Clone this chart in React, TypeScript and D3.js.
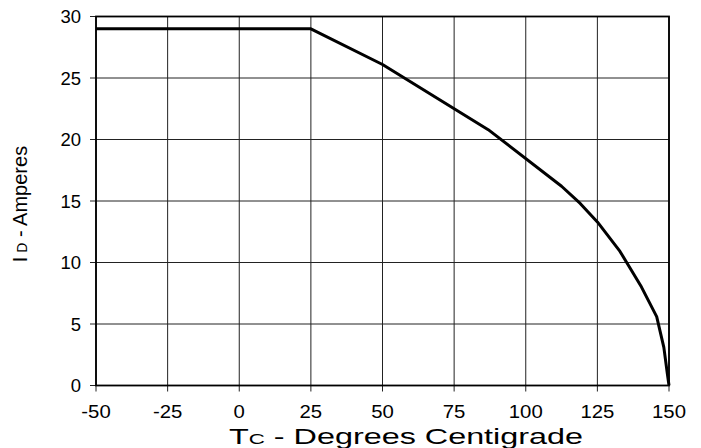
import React from "react";
import * as d3 from "d3";

const xTicks = [-50, -25, 0, 25, 50, 75, 100, 125, 150];
const yTicks = [0, 5, 10, 15, 20, 25, 30];
const tempC = [-50, 25, 50, 86.9, 112.5, 119, 125, 132.9, 140.4, 145.7, 148.2, 149.4, 150];
const currentA = [29, 29, 26.1, 20.8, 16.2, 14.8, 13.3, 10.9, 8.0, 5.6, 3.1, 1.0, 0];

export default function App() {
  const W = 701, H = 448;
  const L = 96, R = 669, T = 16.5, B = 385.5;
  const x = d3.scaleLinear().domain([-50, 150]).range([L, R]);
  const y = d3.scaleLinear().domain([0, 30]).range([B, T]);
  const pts: [number, number][] = tempC.map((t, i) => [t, currentA[i]]);
  const line = d3.line<[number, number]>().x(d => x(d[0])).y(d => y(d[1]));
  const font = "Arial, 'Liberation Sans', sans-serif";
  return (
    <svg width={W} height={H} style={{ position: "absolute", left: 0, top: 0, background: "#fff" }} fontFamily={font}>
      <rect x={0} y={0} width={W} height={H} fill="#fff" />
      {xTicks.map(t => (
        <line key={"gx" + t} x1={x(t)} x2={x(t)} y1={T} y2={B + 6} stroke="#222" strokeWidth={1} />
      ))}
      {yTicks.map(t => (
        <line key={"gy" + t} x1={L - 6} x2={R} y1={y(t)} y2={y(t)} stroke="#222" strokeWidth={1} />
      ))}
      <rect x={L} y={T} width={R - L} height={B - T} fill="none" stroke="#000" strokeWidth={1.8} />
      <path d={line(pts) || ""} fill="none" stroke="#000" strokeWidth={3} strokeLinejoin="round" />
      {xTicks.map(t => (
        <text key={"tx" + t} x={x(t)} y={418} textAnchor="middle" fontSize={18.5} fill="#000"
          transform={`translate(${x(t)},0) scale(1.1,1) translate(${-x(t)},0)`}>{t}</text>
      ))}
      {yTicks.map(t => (
        <text key={"ty" + t} x={81} y={y(t) + 6.5} textAnchor="end" fontSize={18.5} fill="#000">{t}</text>
      ))}
      <text x={229} y={444} fontSize={22.5} fill="#000" textLength={354} lengthAdjust="spacingAndGlyphs">
        T<tspan fontSize={15.5}>C</tspan> - Degrees Centigrade
      </text>
      <text transform={`translate(27, 204) rotate(-90)`} textAnchor="middle" fontSize={20} fill="#000">
        I<tspan fontSize={14}> D</tspan> - Amperes
      </text>
    </svg>
  );
}
